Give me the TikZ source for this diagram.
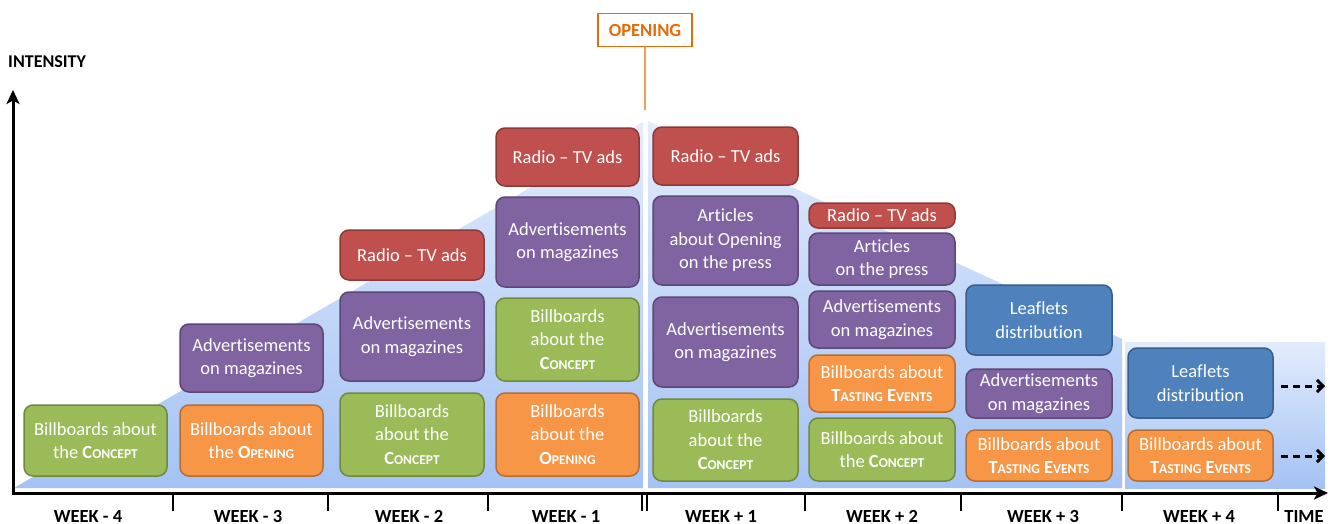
\documentclass[tikz,border=0pt]{standalone}
\usepackage{fontspec}
\setmainfont{Carlito}[Ligatures=NoCommon]
\usetikzlibrary{arrows.meta}
\definecolor{cRed}{HTML}{C0504D}\definecolor{cRedD}{HTML}{8C3A38}
\definecolor{cPur}{HTML}{8064A2}\definecolor{cPurD}{HTML}{5C4776}
\definecolor{cGrn}{HTML}{9BBB59}\definecolor{cGrnD}{HTML}{71893F}
\definecolor{cOrg}{HTML}{F79646}\definecolor{cOrgD}{HTML}{B66D31}
\definecolor{cBlu}{HTML}{4F81BD}\definecolor{cBluD}{HTML}{385D8A}
\definecolor{cOpen}{HTML}{E46C0A}\definecolor{cOpenL}{HTML}{F5A05A}
\definecolor{bgTop}{HTML}{E2ECFC}\definecolor{bgBot}{HTML}{A4C2F4}
\newcommand\fsc[2]{{\bfseries #1{\fontsize{13.5}{23.5}\selectfont #2}}}
\tikzset{
  box/.style={rounded corners=9pt, line width=1.5pt, text=white, align=center,
    inner sep=0pt, font=\fontsize{18.5}{23.5}\selectfont},
  rbox/.style={box, fill=cRed, draw=cRedD},
  pbox/.style={box, fill=cPur, draw=cPurD},
  gbox/.style={box, fill=cGrn, draw=cGrnD},
  obox/.style={box, fill=cOrg, draw=cOrgD},
  bbox/.style={box, fill=cBlu, draw=cBluD},
  bgshape/.style={top color=bgTop, bottom color=bgBot, draw=none},
  axisline/.style={line width=3pt, -{Stealth[length=14pt,width=13pt,inset=3.5pt]}},
  tickline/.style={line width=2.6pt},
  dasharrow/.style={line width=3pt, dash pattern=on 7pt off 5pt, -{Straight Barb[length=6pt,width=12pt]}},
  lbl/.style={font=\fontsize{18.5}{20}\selectfont\bfseries, anchor=base, inner sep=0pt},
  openbox/.style={draw=cOpen, line width=1.8pt, fill=white, text=cOpen, minimum width=94pt,
    minimum height=33pt, inner sep=0pt, font=\fontsize{18.5}{20}\selectfont\bfseries},
}
\begin{document}
\begin{tikzpicture}[x=1pt,y=-1pt]
\useasboundingbox[fill=white] (0,0) rectangle (1337,524);
% background intensity shapes
\shade[bgshape] (14,488) -- (643,122) -- (643,488) -- cycle;
\shade[bgshape] (648,121) -- (1122,339) -- (1122,488) -- (648,488) -- cycle;
\shade[bgshape] (1125,342) rectangle (1325,488);
% opening marker
\node[openbox] (open) at (645,30) {OPENING};
\coordinate (openend) at (645,110);
\draw[cOpenL, line width=2.6pt] (open.south) -- (openend);
% axes
\coordinate (ybase) at (13,495);
\coordinate (ytip) at (13,90);
\coordinate (xbase) at (11.5,493);
\coordinate (xtip) at (1328,493);
\draw[axisline] (ybase) -- (ytip);
\draw[axisline] (xbase) -- (xtip);
\foreach \t in {173,328,488,805,961,1122,1278}{
  \draw[tickline] (\t,493) -- (\t,511);
}
\draw[line width=2.2pt] (642.3,493) -- (642.3,511);
\draw[line width=2.2pt] (647.2,493) -- (647.2,511);
% labels
\node[font=\fontsize{18}{20}\selectfont\bfseries, anchor=base west, inner sep=0pt] (intensity) at (8,68) {INTENSITY};
\node[lbl] (lw4m) at (88,522) {WEEK - 4};
\node[lbl] (lw3m) at (248,522) {WEEK - 3};
\node[lbl] (lw2m) at (409,522) {WEEK - 2};
\node[lbl] (lw1m) at (566,522) {WEEK - 1};
\node[lbl] (lw1p) at (721,522) {WEEK + 1};
\node[lbl] (lw2p) at (882,522) {WEEK + 2};
\node[lbl] (lw3p) at (1043,522) {WEEK + 3};
\node[lbl] (lw4p) at (1199,522) {WEEK + 4};
\node[lbl] (ltime) at (1304,522) {TIME};
% week -4
\node[gbox, minimum width=143pt, minimum height=71pt] (a1) at (95.5,440.5) {Billboards about\\the \fsc{C}{ONCEPT}};
% week -3
\node[obox, minimum width=143pt, minimum height=71pt] (b1) at (251.5,440.5) {Billboards about\\the \fsc{O}{PENING}};
\node[pbox, minimum width=143pt, minimum height=68pt] (b2) at (251.5,358) {Advertisements\\on magazines};
% week -2
\node[gbox, minimum width=144pt, minimum height=83pt] (c1) at (412,434.5) {Billboards\\about the\\\fsc{C}{ONCEPT}};
\node[pbox, minimum width=144pt, minimum height=89pt] (c2) at (412,336.5) {Advertisements\\on magazines};
\node[rbox, minimum width=144pt, minimum height=50pt] (c3) at (412,255) {Radio -- TV ads};
% week -1
\node[obox, minimum width=143pt, minimum height=83pt] (d1) at (567.5,434.5) {Billboards\\about the\\\fsc{O}{PENING}};
\node[gbox, minimum width=143pt, minimum height=83pt] (d2) at (567.5,339.5) {Billboards\\about the\\\fsc{C}{ONCEPT}};
\node[pbox, minimum width=143pt, minimum height=90pt] (d3) at (567.5,242) {Advertisements\\on magazines};
\node[rbox, minimum width=143pt, minimum height=58pt] (d4) at (567.5,157) {Radio -- TV ads};
% week +1
\node[gbox, minimum width=145pt, minimum height=82pt] (e1) at (725.5,440) {Billboards\\about the\\\fsc{C}{ONCEPT}};
\node[pbox, minimum width=145pt, minimum height=90pt] (e2) at (725.5,342) {Advertisements\\on magazines};
\node[pbox, minimum width=145pt, minimum height=89pt] (e3) at (725.5,240.5) {Articles\\about Opening\\on the press};
\node[rbox, minimum width=145pt, minimum height=58pt] (e4) at (725.5,156) {Radio -- TV ads};
% week +2
\node[gbox, minimum width=146pt, minimum height=63pt] (f1) at (882,449.5) {Billboards about\\the \fsc{C}{ONCEPT}};
\node[obox, minimum width=146pt, minimum height=57pt] (f2) at (882,383.5) {Billboards about\\\fsc{T}{ASTING} \fsc{E}{VENTS}};
\node[pbox, minimum width=146pt, minimum height=57pt] (f3) at (882,319.5) {Advertisements\\on magazines};
\node[pbox, minimum width=146pt, minimum height=52pt] (f4) at (882,259) {Articles\\on the press};
\node[rbox, minimum width=146pt, minimum height=25pt] (f5) at (882,215.5) {Radio -- TV ads};
% week +3
\node[obox, minimum width=146pt, minimum height=51pt] (g1) at (1039,455.5) {Billboards about\\\fsc{T}{ASTING} \fsc{E}{VENTS}};
\node[pbox, minimum width=146pt, minimum height=49pt] (g2) at (1039,393.5) {Advertisements\\on magazines};
\node[bbox, minimum width=146pt, minimum height=70pt] (g3) at (1039,320) {Leaflets\\distribution};
% week +4
\node[obox, minimum width=145pt, minimum height=51pt] (h1) at (1200.5,455.5) {Billboards about\\\fsc{T}{ASTING} \fsc{E}{VENTS}};
\node[bbox, minimum width=145pt, minimum height=70pt] (h2) at (1200.5,383) {Leaflets\\distribution};
% continuation arrows
\coordinate (d1s) at (1281,386);
\coordinate (d1e) at (1325,386);
\coordinate (d2s) at (1281,456);
\coordinate (d2e) at (1325,456);
\draw[dasharrow] (d1s) -- (d1e);
\draw[dasharrow] (d2s) -- (d2e);
\end{tikzpicture}
\end{document}
